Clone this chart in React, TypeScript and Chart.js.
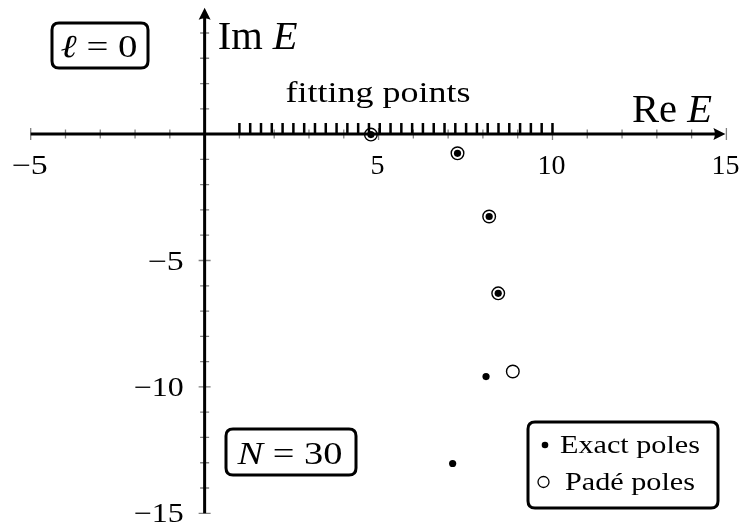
import React, { useEffect, useRef } from "react";
import { Chart, registerables } from "chart.js";

Chart.register(...registerables);

// ---- data ----
const exactRe = [4.78, 7.27, 8.18, 8.44, 8.09, 7.13];
const exactIm = [-0.02, -0.76, -3.26, -6.3, -9.59, -13.03];
const padeRe = [4.78, 7.27, 8.18, 8.44, 8.86];
const padeIm = [-0.02, -0.76, -3.26, -6.3, -9.39];
const fitStart = 1;
const fitEnd = 10;
const fitCount = 30;
const xTickLabels = [-5, 5, 10, 15];
const yTickLabels = [-5, -10, -15];
const xMinorTicks = [-5, -4, -3, -2, -1, 1, 2, 3, 4, 5, 6, 7, 8, 9, 10, 11, 12, 13, 14, 15];
const yMinorTicks = [-15, -14, -13, -12, -11, -10, -9, -8, -7, -6, -5, -4, -3, -2, -1, 1, 2, 3, 4];

const SERIF = '"Liberation Serif", "DejaVu Serif", serif';

function fmt(v: number) {
  return v < 0 ? "\u2212" + Math.abs(v) : String(v);
}

function roundRect(ctx: CanvasRenderingContext2D, x: number, y: number, w: number, h: number, r: number) {
  ctx.beginPath();
  ctx.moveTo(x + r, y);
  ctx.lineTo(x + w - r, y);
  ctx.quadraticCurveTo(x + w, y, x + w, y + r);
  ctx.lineTo(x + w, y + h - r);
  ctx.quadraticCurveTo(x + w, y + h, x + w - r, y + h);
  ctx.lineTo(x + r, y + h);
  ctx.quadraticCurveTo(x, y + h, x, y + h - r);
  ctx.lineTo(x, y + r);
  ctx.quadraticCurveTo(x, y, x + r, y);
  ctx.closePath();
}

// draw pieces of [text, italic] side by side, baseline y, optionally stretched to a target width
function drawRich(
  ctx: CanvasRenderingContext2D,
  parts: [string, boolean][],
  x: number,
  y: number,
  size: number,
  align: "left" | "right" | "center",
  targetW?: number
) {
  ctx.save();
  ctx.textBaseline = "alphabetic";
  ctx.textAlign = "left";
  let total = 0;
  const widths = parts.map(([t, it]) => {
    ctx.font = `${it ? "italic " : ""}${size}px ${SERIF}`;
    const w = ctx.measureText(t).width;
    total += w;
    return w;
  });
  const W = targetW ?? total;
  const s = W / total;
  const left = align === "left" ? x : align === "right" ? x - W : x - W / 2;
  ctx.translate(left, y);
  ctx.scale(s, 1);
  let cx = 0;
  parts.forEach(([t, it], i) => {
    ctx.font = `${it ? "italic " : ""}${size}px ${SERIF}`;
    ctx.fillText(t, cx, 0);
    cx += widths[i];
  });
  ctx.restore();
}

const axesPlugin = {
  id: "texAxes",
  beforeDatasetsDraw(chart: any) {
    const ctx: CanvasRenderingContext2D = chart.ctx;
    const xs = chart.scales.x;
    const ys = chart.scales.y;
    const X = (v: number) => xs.getPixelForValue(v);
    const Y = (v: number) => ys.getPixelForValue(v);
    const x0 = X(0);
    const y0 = Y(0);
    ctx.save();
    // minor ticks
    ctx.strokeStyle = "#808080";
    ctx.lineWidth = 1.3;
    ctx.beginPath();
    xMinorTicks.forEach((v) => {
      const len = v % 5 === 0 ? 6 : 4.5;
      ctx.moveTo(X(v), y0 - len);
      ctx.lineTo(X(v), y0 + len);
    });
    yMinorTicks.forEach((v) => {
      const len = v % 5 === 0 ? 6 : 4.5;
      ctx.moveTo(x0 - len, Y(v));
      ctx.lineTo(x0 + len, Y(v));
    });
    ctx.stroke();

    // fitting points ticks
    ctx.strokeStyle = "#000";
    ctx.lineWidth = 2.5;
    ctx.beginPath();
    for (let i = 0; i < fitCount; i++) {
      const v = fitStart + ((fitEnd - fitStart) * i) / (fitCount - 1);
      ctx.moveTo(X(v), y0);
      ctx.lineTo(X(v), y0 - 11);
    }
    ctx.stroke();

    // axes lines
    ctx.lineWidth = 3;
    ctx.lineCap = "butt";
    ctx.beginPath();
    ctx.moveTo(X(-5), y0);
    ctx.lineTo(X(15) - 8, y0);
    ctx.moveTo(x0, Y(-15));
    ctx.lineTo(x0, Y(5) + 8);
    ctx.stroke();
    // arrowheads
    ctx.fillStyle = "#000";
    const tipX = X(15) - 1;
    ctx.beginPath();
    ctx.moveTo(tipX, y0);
    ctx.lineTo(tipX - 12, y0 - 6);
    ctx.quadraticCurveTo(tipX - 9, y0, tipX - 12, y0 + 6);
    ctx.closePath();
    ctx.fill();
    const tipY = Y(5);
    ctx.beginPath();
    ctx.moveTo(x0, tipY);
    ctx.lineTo(x0 - 6, tipY + 12);
    ctx.quadraticCurveTo(x0, tipY + 9, x0 + 6, tipY + 12);
    ctx.closePath();
    ctx.fill();

    // tick labels
    ctx.fillStyle = "#000";
    xTickLabels.forEach((v) => {
      const w = v < 0 ? 36 : String(v).length * 14;
      drawRich(ctx, [[fmt(v), false]], X(v) - 1, y0 + 40, 27, "center", w);
    });
    yTickLabels.forEach((v) => {
      const w = 22 + String(Math.abs(v)).length * 14;
      drawRich(ctx, [[fmt(v), false]], x0 - 21, Y(v) + 9, 27, "right", w);
    });

    // axis titles
    drawRich(ctx, [["Im ", false], ["E", true]], x0 + 13, y0 - 85, 39, "left", 80);
    drawRich(ctx, [["Re ", false], ["E", true]], 712, y0 - 12, 39, "right", 80);
    drawRich(ctx, [["fitting points", false]], 378, y0 - 32, 30, "center", 185);

    // boxes
    const box = (x: number, y: number, w: number, h: number) => {
      roundRect(ctx, x, y, w, h, 7);
      ctx.fillStyle = "#fff";
      ctx.fill();
      ctx.lineWidth = 3;
      ctx.strokeStyle = "#000";
      ctx.stroke();
      ctx.fillStyle = "#000";
    };
    box(52, 23, 96, 45);
    drawRich(ctx, [["\u2113", true], [" = 0", false]], 99, 57, 32, "center", 77);
    box(226, 429, 130, 46);
    drawRich(ctx, [["N", true], [" = 30", false]], 290, 464, 32, "center", 105);

    // legend
    box(528, 422, 190, 86);
    ctx.beginPath();
    ctx.arc(545, 445, 3.3, 0, Math.PI * 2);
    ctx.fill();
    ctx.beginPath();
    ctx.arc(543.5, 482, 5.5, 0, Math.PI * 2);
    ctx.lineWidth = 1.3;
    ctx.stroke();
    drawRich(ctx, [["Exact poles", false]], 560, 453, 25, "left", 140);
    drawRich(ctx, [["Pad\u00e9 poles", false]], 565, 490, 25, "left", 130);
    ctx.restore();
  },
};

export default function App() {
  const ref = useRef<HTMLCanvasElement | null>(null);
  useEffect(() => {
    if (!ref.current) return;
    const chart = new Chart(ref.current, {
      type: "scatter",
      data: {
        datasets: [
          {
            label: "Exact poles",
            data: exactRe.map((x, i) => ({ x, y: exactIm[i] })),
            pointRadius: 3.6,
            pointBackgroundColor: "#000",
            pointBorderColor: "#000",
            pointBorderWidth: 0,
          },
          {
            label: "Padé poles",
            data: padeRe.map((x, i) => ({ x, y: padeIm[i] })),
            pointRadius: 6.3,
            pointBackgroundColor: "rgba(0,0,0,0)",
            pointBorderColor: "#000",
            pointBorderWidth: 1.4,
          },
        ],
      },
      options: {
        animation: false,
        responsive: false,
        maintainAspectRatio: false,
        layout: { padding: { left: 30.7, right: 15.6, top: 5.3, bottom: 13.7 } },
        scales: {
          x: { type: "linear", min: -5, max: 15, display: false },
          y: { type: "linear", min: -15, max: 5, display: false },
        },
        plugins: { legend: { display: false }, tooltip: { enabled: false } },
      },
      plugins: [axesPlugin],
    });
    return () => chart.destroy();
  }, []);
  return (
    <div style={{ position: "fixed", left: 0, top: 0, width: 742, height: 527, background: "#fff" }}>
      <canvas ref={ref} width={742} height={527} style={{ width: 742, height: 527, display: "block" }} />
    </div>
  );
}
